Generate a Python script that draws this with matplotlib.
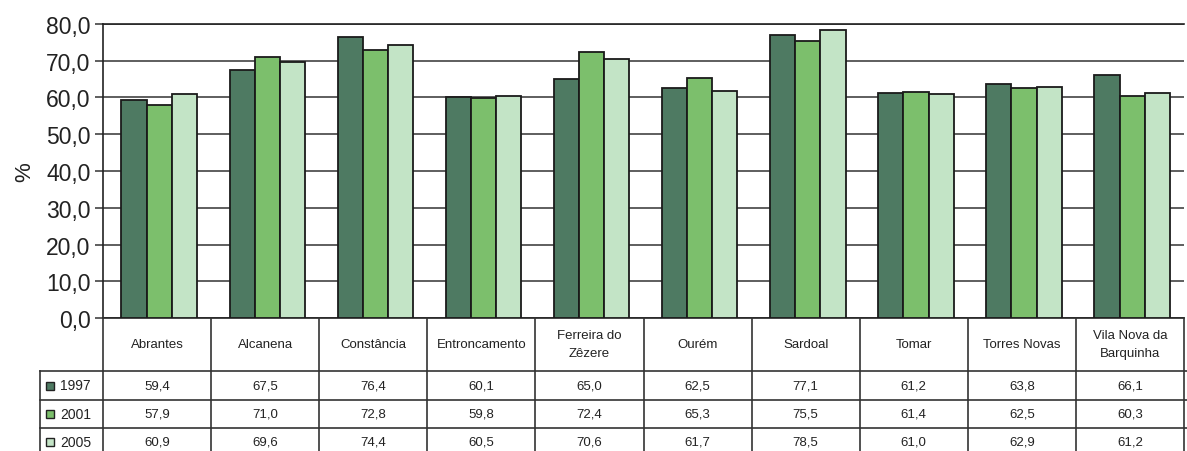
import numpy as np
import matplotlib
matplotlib.use("Agg")
import matplotlib.pyplot as plt
from matplotlib import transforms
from matplotlib.lines import Line2D
from matplotlib.patches import Rectangle

# concelhos and rates (%) for each year
concelhos = ["Abrantes", "Alcanena", "Constância", "Entroncamento",
             "Ferreira do\nZêzere", "Ourém", "Sardoal", "Tomar",
             "Torres Novas", "Vila Nova da\nBarquinha"]
anos = ["1997", "2001", "2005"]
v1997 = [59.4, 67.5, 76.4, 60.1, 65.0, 62.5, 77.1, 61.2, 63.8, 66.1]
v2001 = [57.9, 71.0, 72.8, 59.8, 72.4, 65.3, 75.5, 61.4, 62.5, 60.3]
v2005 = [60.9, 69.6, 74.4, 60.5, 70.6, 61.7, 78.5, 61.0, 62.9, 61.2]
cores = ["#4e7a62", "#7cbf6c", "#c3e4c6"]

plt.rcParams['font.family'] = ['Liberation Sans', 'DejaVu Sans']

W, H = 1187, 452
fig = plt.figure(figsize=(W / 100, H / 100), dpi=100)
ax = fig.add_axes([103 / W, 1 - 319 / H, 1081 / W, (319 - 25) / H])

series = [v1997, v2001, v2005]
x = np.arange(len(concelhos))
bw = 0.233
for i, vals in enumerate(series):
    ax.bar(x + (i - 1) * bw + 0.02, vals, bw, color=cores[i],
           edgecolor="#1a1a1a", linewidth=1.3, zorder=3)

ax.set_xlim(-0.5, len(concelhos) - 0.5)
ax.set_ylim(0, 80)
ax.set_yticks(np.arange(0, 81, 10))
ax.set_yticklabels([f"{t:.1f}".replace(".", ",") for t in np.arange(0, 81, 10)],
                   fontsize=16.5, color="#222222")
ax.yaxis.grid(True, color="#333333", linewidth=1.1, zorder=0)
ax.set_xticks([])
ax.tick_params(axis="y", length=6, width=1.1, color="#333333", pad=3)
ax.spines["right"].set_visible(False)
for s in ["left", "bottom", "top"]:
    ax.spines[s].set_linewidth(1.2)
    ax.spines[s].set_color("#222222")
ax.set_ylabel("%", fontsize=16, color="#222222", labelpad=8)

# data table underneath the bars
bt = transforms.blended_transform_factory(ax.transData, fig.transFigure)
ft = fig.transFigure

def fy(py):
    return 1 - py / H

rows_y = [372, 401, 429, 457]
lc = "#333333"
for k in range(len(concelhos) + 1):
    fig.add_artist(Line2D([k - 0.5, k - 0.5], [fy(319), fy(H)], transform=bt,
                          color=lc, linewidth=1.2))
for ry in rows_y[:3]:
    fig.add_artist(Line2D([40 / W, 1], [fy(ry), fy(ry)], transform=ft,
                          color=lc, linewidth=1.2))
fig.add_artist(Line2D([40 / W, 40 / W], [fy(372), fy(H)], transform=ft,
                      color=lc, linewidth=1.2))

for k, nome in enumerate(concelhos):
    fig.text(k, fy(345), nome, transform=bt, ha="center", va="center",
             fontsize=9.5, color="#222222", linespacing=1.7)

for i, vals in enumerate(series):
    yc = fy((rows_y[i] + rows_y[i + 1]) / 2)
    for k, v in enumerate(vals):
        fig.text(k, yc, f"{v:.1f}".replace(".", ","), transform=bt,
                 ha="center", va="center", fontsize=9.5, color="#222222")
    fig.add_artist(Rectangle((46 / W, yc - 4 / H), 8 / W, 8 / H, transform=ft,
                             facecolor=cores[i], edgecolor="#222222",
                             linewidth=1))
    fig.text(60 / W, yc, anos[i], transform=ft, ha="left", va="center",
             fontsize=10, color="#222222")

fig.savefig("out.png", dpi=100, facecolor="white")
